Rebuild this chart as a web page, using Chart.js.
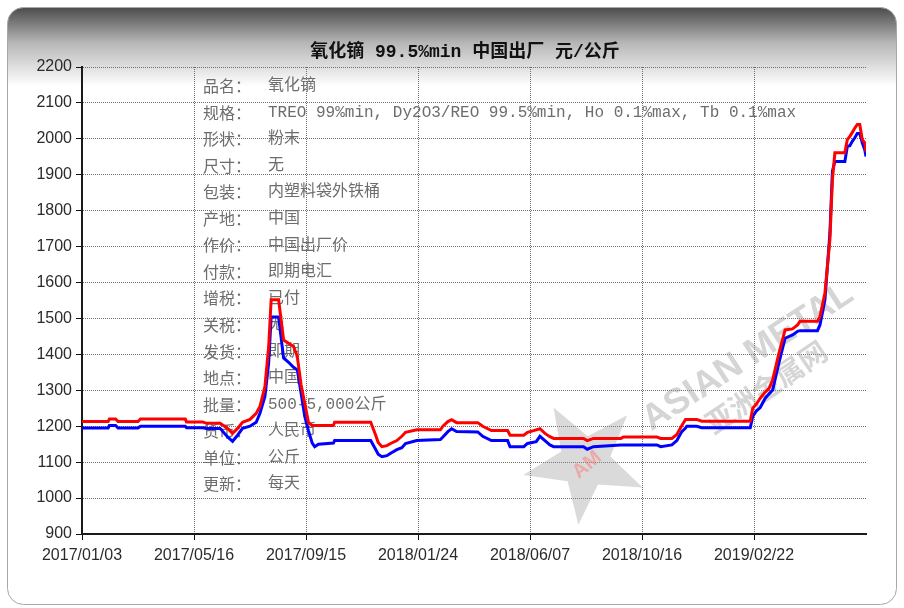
<!DOCTYPE html>
<html>
<head>
<meta charset="utf-8">
<script src="https://cdn.jsdelivr.net/npm/chart.js@4.4.1/dist/chart.umd.min.js"></script>
<style>
  html, body { margin: 0; padding: 0; background: #fff; }
  #wrap { width: 904px; height: 608px; }
</style>
</head>
<body>
<div id="wrap"><canvas id="priceChart" width="904" height="608"></canvas></div>
<script>
// x = trading-day index, one labelled tick every 90 days
const tickStep = 90;
const tickLabels = ['2017/01/03', '2017/05/16', '2017/09/15', '2018/01/24', '2018/06/07', '2018/10/16', '2019/02/22'];

const days = [0, 21, 22, 27, 29, 45, 47, 83, 84, 97, 100, 111, 117, 121, 125, 129, 135, 140, 143, 147,
  150, 152, 158, 162, 166, 170, 173, 176, 179, 182, 185, 187, 190, 202, 203, 232, 236, 238, 241, 245,
  248, 253, 257, 260, 269, 288, 290, 294, 297, 301, 318, 322, 329, 342, 344, 355, 358, 365, 368, 372,
  376, 379, 403, 406, 411, 433, 435, 462, 465, 474, 478, 482, 485, 486, 494, 498, 537, 539, 542, 545,
  549, 552, 555, 560, 565, 571, 575, 577, 591, 593, 597, 601, 603, 605, 613, 615, 617, 619, 621, 623,
  625, 627, 629, 630];

// high price (red)
const highPrice = [1213, 1213, 1220, 1220, 1213, 1213, 1220, 1220, 1212, 1212, 1208, 1208, 1194, 1180, 1194, 1211, 1219, 1236, 1255, 1310,
  1422, 1552, 1552, 1440, 1431, 1422, 1394, 1316, 1264, 1210, 1202, 1202, 1202, 1202, 1211, 1211, 1175, 1155, 1143, 1146,
  1152, 1160, 1172, 1183, 1190, 1190, 1200, 1213, 1218, 1210, 1210, 1200, 1188, 1188, 1175, 1175, 1183, 1190, 1193, 1180,
  1171, 1166, 1166, 1160, 1166, 1166, 1170, 1170, 1166, 1166, 1177, 1202, 1219, 1219, 1219, 1214, 1214, 1250, 1262, 1278,
  1295, 1305, 1329, 1403, 1468, 1471, 1482, 1492, 1492, 1505, 1571, 1720, 1885, 1961, 1961, 1998, 2007, 2018, 2030, 2040,
  2040, 1998, 1989, 1965];

// low price (blue)
const lowPrice = [1195, 1195, 1202, 1202, 1195, 1195, 1200, 1200, 1196, 1196, 1194, 1194, 1170, 1158, 1175, 1194, 1200, 1211, 1236, 1283,
  1376, 1504, 1504, 1390, 1378, 1364, 1357, 1293, 1227, 1187, 1153, 1143, 1150, 1153, 1160, 1160, 1135, 1122, 1115, 1118,
  1125, 1135, 1140, 1152, 1160, 1163, 1170, 1185, 1193, 1185, 1184, 1172, 1160, 1160, 1143, 1143, 1152, 1157, 1172, 1160,
  1148, 1143, 1143, 1136, 1143, 1148, 1148, 1148, 1143, 1148, 1160, 1185, 1195, 1200, 1200, 1196, 1196, 1227, 1243, 1252,
  1278, 1290, 1301, 1376, 1445, 1454, 1464, 1466, 1466, 1482, 1552, 1738, 1910, 1937, 1937, 1979, 1981, 1993, 2003, 2015,
  2015, 1989, 1970, 1951];

const titleText = '氧化镝 99.5%min 中国出厂 元/公斤';
const infoLabels = ['品名：', '规格：', '形状：', '尺寸：', '包装：', '产地：', '作价：', '付款：', '增税：', '关税：', '发货：', '地点：', '批量：', '货币：', '单位：', '更新：'];
const infoValues = ['氧化镝', 'TREO 99%min, Dy2O3/REO 99.5%min, Ho 0.1%max, Tb 0.1%max', '粉末', '无', '内塑料袋外铁桶', '中国', '中国出厂价', '即期电汇', '已付', '无', '即期', '中国', '500-5,000公斤', '人民币', '公斤', '每天'];

function toPoints(values) {
  return values.map((v, i) => ({ x: days[i], y: v }));
}

function drawStar(ctx, cx, cy, outer, inner, startDeg) {
  ctx.beginPath();
  for (let i = 0; i < 10; i++) {
    const r = i % 2 === 0 ? outer : inner;
    const a = (startDeg + i * 36) * Math.PI / 180;
    const px = cx + r * Math.cos(a);
    const py = cy + r * Math.sin(a);
    if (i === 0) ctx.moveTo(px, py); else ctx.lineTo(px, py);
  }
  ctx.closePath();
}

const panelPlugin = {
  id: 'panel',
  beforeDraw(chart) {
    const ctx = chart.ctx;
    ctx.save();
    ctx.fillStyle = '#fff';
    ctx.fillRect(0, 0, chart.width, chart.height);
    const g = ctx.createLinearGradient(0, 7, 0, 86);
    g.addColorStop(0, '#4a4a4a');
    g.addColorStop(0.45, '#b6b6b6');
    g.addColorStop(1, '#ffffff');
    ctx.beginPath();
    ctx.roundRect(7.5, 7.5, 889, 597, 16);
    ctx.fillStyle = g;
    ctx.fill();
    ctx.strokeStyle = '#a8a8a8';
    ctx.lineWidth = 1;
    ctx.stroke();

    ctx.font = 'bold 18px "Liberation Mono", "Noto Sans CJK SC"';
    ctx.fillStyle = '#111';
    ctx.textAlign = 'center';
    ctx.textBaseline = 'middle';
    ctx.fillText(titleText, 465, 52);
    ctx.restore();
  },
  beforeDatasetsDraw(chart) {
    const ctx = chart.ctx;
    ctx.save();
    // watermark
    drawStar(ctx, 585, 462, 63, 26, -120);
    ctx.fillStyle = 'rgba(150,150,150,0.35)';
    ctx.fill();
    ctx.translate(587, 465);
    ctx.rotate(-40 * Math.PI / 180);
    ctx.font = 'bold 20px "Liberation Sans"';
    ctx.fillStyle = 'rgba(255,110,110,0.45)';
    ctx.textAlign = 'center';
    ctx.textBaseline = 'middle';
    ctx.fillText('AM', 0, 0);
    ctx.restore();

    ctx.save();
    ctx.translate(748, 357);
    ctx.rotate(-33 * Math.PI / 180);
    ctx.font = 'bold 36px "Liberation Sans"';
    ctx.fillStyle = 'rgba(150,150,150,0.4)';
    ctx.textAlign = 'center';
    ctx.textBaseline = 'middle';
    ctx.fillText('ASIAN METAL', 0, 0);
    ctx.restore();

    ctx.save();
    ctx.translate(766, 387);
    ctx.rotate(-34 * Math.PI / 180);
    ctx.font = 'bold 28px "Noto Sans CJK SC"';
    ctx.fillStyle = 'rgba(150,150,150,0.4)';
    ctx.textAlign = 'center';
    ctx.textBaseline = 'middle';
    ctx.fillText('亚洲金属网', 0, 0);
    ctx.restore();

    // product info block
    ctx.save();
    ctx.fillStyle = '#6d6d6d';
    ctx.textBaseline = 'middle';
    ctx.textAlign = 'left';
    infoLabels.forEach((lab, i) => {
      const y = 86 + i * 26.55;
      ctx.font = '16px "Noto Sans CJK SC"';
      ctx.fillText(lab, 203, y);
      ctx.font = '16px "Liberation Mono", "Noto Sans CJK SC"';
      ctx.fillText(infoValues[i], 268, y);
    });
    ctx.restore();
  }
};

const axisFont = { family: '"Liberation Sans", Arial, sans-serif', size: 16 };

new Chart(document.getElementById('priceChart').getContext('2d'), {
  type: 'line',
  data: {
    datasets: [{
      label: '最高价',
      data: toPoints(highPrice),
      borderColor: '#ff0000',
      borderWidth: 3,
      pointRadius: 0,
      tension: 0
    }, {
      label: '最低价',
      data: toPoints(lowPrice),
      borderColor: '#0000ff',
      borderWidth: 3,
      pointRadius: 0,
      tension: 0
    }]
  },
  options: {
    responsive: false,
    animation: false,
    layout: { padding: { left: 0, top: 67, right: 38, bottom: 0 } },
    plugins: {
      legend: { display: false },
      tooltip: { enabled: false },
      title: { display: false }
    },
    scales: {
      x: {
        type: 'linear',
        min: 0,
        max: tickStep * tickLabels.length,
        afterFit: (scale) => { scale.height = 74; },
        ticks: {
          stepSize: tickStep,
          autoSkip: false,
          maxRotation: 0,
          padding: 6,
          color: '#2b2b2b',
          font: axisFont,
          callback: (v) => tickLabels[Math.round(v / tickStep)] || ''
        },
        grid: {
          color: (c) => (c.tick && c.tick.value > 0 && c.tick.value < tickStep * tickLabels.length) ? '#6e6e6e' : 'rgba(0,0,0,0)',
          tickColor: (c) => (c.tick && c.tick.value < tickStep * tickLabels.length) ? '#111' : 'rgba(0,0,0,0)',
          tickLength: 6,
          lineWidth: 1
        },
        border: { color: '#1a1a1a', width: 2, dash: [1, 1] }
      },
      y: {
        min: 900,
        max: 2200,
        afterFit: (scale) => { scale.width = 82; },
        ticks: {
          stepSize: 100,
          padding: 4,
          color: '#2b2b2b',
          font: axisFont,
          callback: (v) => String(v)
        },
        grid: {
          color: (c) => (c.tick && c.tick.value > 900) ? '#6e6e6e' : 'rgba(0,0,0,0)',
          tickColor: '#111',
          tickLength: 6,
          lineWidth: 1
        },
        border: { color: '#1a1a1a', width: 2, dash: [1, 1] }
      }
    }
  },
  plugins: [panelPlugin]
});
</script>
</body>
</html>
